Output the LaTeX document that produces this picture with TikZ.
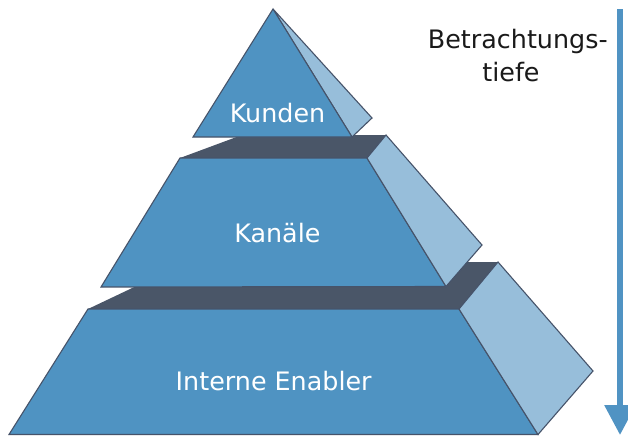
\documentclass[tikz,border=0pt]{standalone}
\usepackage{fontspec}
\setmainfont{DejaVu Sans}
\usetikzlibrary{arrows.meta}
\definecolor{front}{HTML}{4F93C2}
\definecolor{side}{HTML}{97BEDA}
\definecolor{topdark}{HTML}{4A5668}
\definecolor{edge}{HTML}{46536A}
\definecolor{arrowc}{HTML}{5093C3}
\definecolor{textdark}{HTML}{1A1A1A}
\begin{document}
\begin{tikzpicture}[x=1pt,y=-1pt,
  frontface/.style={fill=front,draw=edge,line width=1.1pt,line join=miter},
  sideface/.style={fill=side,draw=edge,line width=1.1pt,line join=miter},
  topface/.style={fill=topdark},
  lbl/.style={text=white,font=\fontsize{25.4}{30}\selectfont,anchor=base,inner sep=0pt},
  heading/.style={text=textdark,font=\fontsize{25.4}{30}\selectfont,anchor=base,inner sep=0pt}]
\clip (0,0) rectangle (628,436);
\fill[white] (0,0) rectangle (628,436);
% layer 3
\fill[topface] (88,309) -- (459,309) -- (498,262) -- (187,262) -- cycle;
\draw[frontface] (88,309) -- (459,309) -- (538,434.5) -- (9,434.5) -- cycle;
\draw[sideface] (459,309) -- (498,262) -- (593,371) -- (538,434.5) -- cycle;
% layer 2
\fill[topface] (180,158) -- (367,158) -- (386,135) -- (242,135) -- cycle;
\draw[frontface] (180,158) -- (367,158) -- (446,286.5) -- (101,287) -- cycle;
\draw[sideface] (367,158) -- (386,135) -- (482,245) -- (446,286.5) -- cycle;
% top
\draw[sideface] (273,9) -- (372,118) -- (352,137) -- cycle;
\draw[frontface] (273,9) -- (352,137) -- (193,137) -- cycle;
% labels
\node[lbl] (kunden) at (277.5,122.3) {Kunden};
\node[lbl] (kanaele) at (277.4,242.3) {Kanäle};
\node[lbl] (enabler) at (273.7,390.7) {Interne Enabler};
\node[heading] (bt1) at (517.8,48.3) {Betrachtungs-};
\node[heading] (bt2) at (511,81) {tiefe};
% arrow
\coordinate (a1) at (620,9.3);
\coordinate (a2) at (620,435);
\draw[arrowc,line width=6pt,-{Triangle[width=30pt,length=30pt]}] (a1) -- (a2);
\end{tikzpicture}
\end{document}
